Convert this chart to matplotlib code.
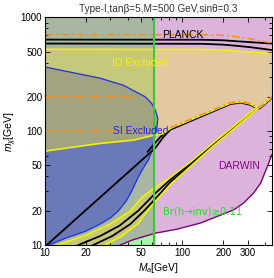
import numpy as np
import matplotlib
matplotlib.use("Agg")
import matplotlib.pyplot as plt
from matplotlib.patches import Rectangle, Polygon

plt.rcParams['font.family'] = ['Liberation Sans', 'DejaVu Sans']
plt.rcParams['mathtext.fontset'] = 'custom'
plt.rcParams['mathtext.rm'] = 'Liberation Sans'
plt.rcParams['mathtext.it'] = 'Liberation Sans:italic'

# ---------------- data ----------------
M_HALF = 62.5   # Br(h->inv) boundary

planck1_x = [10, 140, 200, 250, 320, 450]
planck1_y = [637, 635, 628, 616, 604, 588]
planck2_x = [10, 140, 200, 250, 320, 450]
planck2_y = [588, 585, 575, 562, 545, 516]
orange_top_x = [10, 140, 200, 250, 320, 450]
orange_top_y = [705, 703, 695, 675, 645, 595]

id_up_x = [10, 140, 200, 250, 320, 450]
id_up_y = [524, 522, 515, 505, 495, 480]
id_low_x = [10, 25.2, 44.1, 62.5, 72.9, 82.1, 225, 267, 316, 356, 374, 443, 450]
id_low_y = [66.8, 78, 83.4, 92.2, 95, 106, 176, 181, 173, 159, 163, 195, 200]

lineA_x = [10.3, 63.7, 72.9, 82.1, 225, 267, 316, 356, 374, 443, 450]
lineA_y = [10, 71, 88.6, 103, 173, 178, 170, 156.5, 160.5, 192, 197]
lineA2_x = [56, 63.7, 70, 82.1]
lineA2_y = [66, 79, 90, 104.5]

orange_diag_x = [82.1, 225, 267, 316, 356, 374, 443, 450]
orange_diag_y = [107.5, 178, 183, 175, 161, 165, 197, 202]
orange200_x = [10, 46]
orange200_y = [200, 200]
orange100_x = [10, 62]
orange100_y = [100, 100]

strip_up_x = [12.24, 19.95, 29.9, 41.9, 51.2, 63.8, 82.1, 115, 161, 356]
strip_up_y = [10, 12.24, 15.28, 19.87, 26.4, 32.3, 39.5, 53.5, 75.4, 164]
strip_b_x = [17.5, 25.3, 35, 47.9, 63.8, 82.1, 115, 161, 356]
strip_b_y = [10, 12.0, 14.8, 20.0, 28.5, 37.5, 52.0, 73.5, 161]
strip_c_x = [22.5, 31, 42, 54, 63.8, 82.1, 115, 161, 356]
strip_c_y = [10, 12.0, 15.3, 20.5, 25.5, 35.5, 50.5, 72.0, 159]
strip_lo_x = [27.5, 36, 47.9, 57, 63.8, 82.1, 115, 161, 356]
strip_lo_y = [10, 11.9, 15.5, 20.5, 24.0, 34.0, 49.0, 70.5, 157]

blue_x = [10, 25.2, 37.3, 53.9, 60, 63.7, 66.5, 65.5, 62.7, 60.6, 56.7, 52.1,
          47.9, 43.3, 39.1, 34.2, 29.9, 25.26, 19.95, 14.24, 10.7]
blue_y = [366, 292, 253, 200, 175, 153, 130, 106, 86.8, 68.1, 55.7, 47.4,
          39.5, 30.4, 24.3, 19.87, 17.25, 15.28, 13.27, 11.52, 10]

darwin_x = [35.4, 43.3, 63.7, 92.5, 136, 237, 281, 332, 374, 428, 450]
darwin_y = [10, 11.06, 12.7, 13.8, 15.6, 20.3, 23.4, 28.6, 35.0, 52.4, 62]

xticks = [10, 20, 50, 100, 200, 300]
yticks = [10, 20, 50, 100, 200, 500, 1000]
XMIN, XMAX, YMIN, YMAX = 10, 450, 10, 1000

# colours: (left of M_a = m_h/2, right of it)
C_BASE = ('#a9f3a6', '#ffffff')
C_DARWIN = ('#a6b8a2', '#dbb3db')
C_ID = ('#c6c87c', '#e2c9a0')
C_BLUE = '#6b79b9'
C_BLUE_ID = '#a2a47f'

# ---------------- figure ----------------
fig = plt.figure(figsize=(2.74, 2.78), dpi=100)
ax = fig.add_axes([45 / 274, 1 - 245 / 278, 226.7 / 274, 227.7 / 278])
ax.set_xscale('log')
ax.set_yscale('log')
ax.set_xlim(XMIN, XMAX)
ax.set_ylim(YMIN, YMAX)

clip_left = Rectangle((XMIN, YMIN), M_HALF - XMIN, YMAX - YMIN, transform=ax.transData)
clip_right = Rectangle((M_HALF, YMIN), XMAX - M_HALF, YMAX - YMIN, transform=ax.transData)

darwin_poly_x = darwin_x + [XMAX, XMIN, XMIN]
darwin_poly_y = darwin_y + [YMAX, YMAX, YMIN]
id_poly_x = id_up_x + id_low_x[::-1]
id_poly_y = id_up_y + id_low_y[::-1]
strip_poly_x = strip_up_x + strip_lo_x[::-1]
strip_poly_y = strip_up_y + strip_lo_y[::-1]
blue_poly_x = blue_x + [XMIN]
blue_poly_y = blue_y + [YMIN]

for side, clip in enumerate([clip_left, clip_right]):
    for px, py, col in [([XMIN, XMAX, XMAX, XMIN], [YMIN, YMIN, YMAX, YMAX], C_BASE[side]),
                        (darwin_poly_x, darwin_poly_y, C_DARWIN[side]),
                        (id_poly_x, id_poly_y, C_ID[side]),
                        (strip_poly_x, strip_poly_y, C_ID[side])]:
        p = Polygon(np.column_stack([px, py]), closed=True, facecolor=col,
                    edgecolor='none', zorder=1)
        ax.add_patch(p)
        p.set_clip_path(clip)

pb = Polygon(np.column_stack([blue_poly_x, blue_poly_y]), closed=True,
             facecolor=C_BLUE, edgecolor='none', zorder=1.5)
ax.add_patch(pb)
pb.set_clip_path(clip_left)
id_clip = Polygon(np.column_stack([id_poly_x, id_poly_y]), closed=True,
                  transform=ax.transData)
pbi = Polygon(np.column_stack([blue_poly_x, blue_poly_y]), closed=True,
              facecolor=C_BLUE_ID, edgecolor='none', zorder=1.6)
ax.add_patch(pbi)
pbi.set_clip_path(id_clip)

YEL = '#f2f200'
ORG = '#ff8c1a'
# lines
ax.plot(darwin_x, darwin_y, color='#7d007d', lw=1.0, zorder=3)
ax.plot(blue_x, blue_y, color='#1f2fe0', lw=0.9, zorder=3)
ax.plot(id_up_x, id_up_y, color=YEL, lw=1.2, zorder=3)
ax.plot(id_low_x, id_low_y, color=YEL, lw=1.2, zorder=3.2)
ax.plot(strip_up_x, strip_up_y, color=YEL, lw=1.2, zorder=3.2)
ax.plot(strip_lo_x, strip_lo_y, color=YEL, lw=1.2, zorder=3.2)
for bx, by in [(planck1_x, planck1_y), (planck2_x, planck2_y), (lineA_x, lineA_y),
               (lineA2_x, lineA2_y), (strip_b_x, strip_b_y), (strip_c_x, strip_c_y)]:
    ax.plot(bx, by, color='black', lw=1.3, zorder=3.1)
for ox, oy in [(orange_top_x, orange_top_y), (orange200_x, orange200_y),
               (orange100_x, orange100_y), (orange_diag_x, orange_diag_y)]:
    ax.plot(ox, oy, color=ORG, lw=1.1, ls=(0, (5, 2, 1.2, 2)), zorder=3.3)
ax.axvline(M_HALF, color='#38c838', lw=1.5, zorder=3.4)

# texts
ax.text(102, 695, 'PLANCK', color='black', fontsize=7.5, ha='center', va='center', zorder=5)
ax.text(49.5, 395, 'ID Excluded', color='#f5f500', fontsize=7.5, ha='center', va='center', zorder=5)
ax.text(50.3, 100, 'SI Excluded', color='#2020ee', fontsize=7.5, ha='center', va='center', zorder=5)
ax.text(258, 49.4, 'DARWIN', color='#8b008b', fontsize=7.5, ha='center', va='center', zorder=5)
ax.text(141, 19.5, 'Br(h\u2192inv)\u22650.11', color='#22e022', fontsize=7.2,
        ha='center', va='center', zorder=5, family=['DejaVu Sans'])

ax.set_title('Type-I,tanβ=5,M=500 GeV,sinθ=0.3', fontsize=7.2, color='#333333', pad=4)
ax.set_xlabel(r'$M_a$[GeV]', fontsize=7.5, labelpad=2)
ax.set_ylabel(r'$m_\chi$[GeV]', fontsize=7.5, labelpad=1)

ax.set_xticks(xticks)
ax.set_xticklabels([str(t) for t in xticks])
ax.set_yticks(yticks)
ax.set_yticklabels([str(t) for t in yticks])
ax.set_xticks([30, 40, 60, 70, 80, 90, 400], minor=True)
ax.set_yticks([30, 40, 60, 70, 80, 90, 300, 400, 600, 700, 800, 900], minor=True)
ax.xaxis.set_minor_formatter(matplotlib.ticker.NullFormatter())
ax.yaxis.set_minor_formatter(matplotlib.ticker.NullFormatter())
ax.tick_params(which='both', direction='in', top=True, right=True, labelsize=7, width=0.6, pad=2)
ax.tick_params(which='major', length=3.5)
ax.tick_params(which='minor', length=2)
for s in ax.spines.values():
    s.set_linewidth(0.8)
    s.set_zorder(6)

fig.savefig('out.png', dpi=100)
